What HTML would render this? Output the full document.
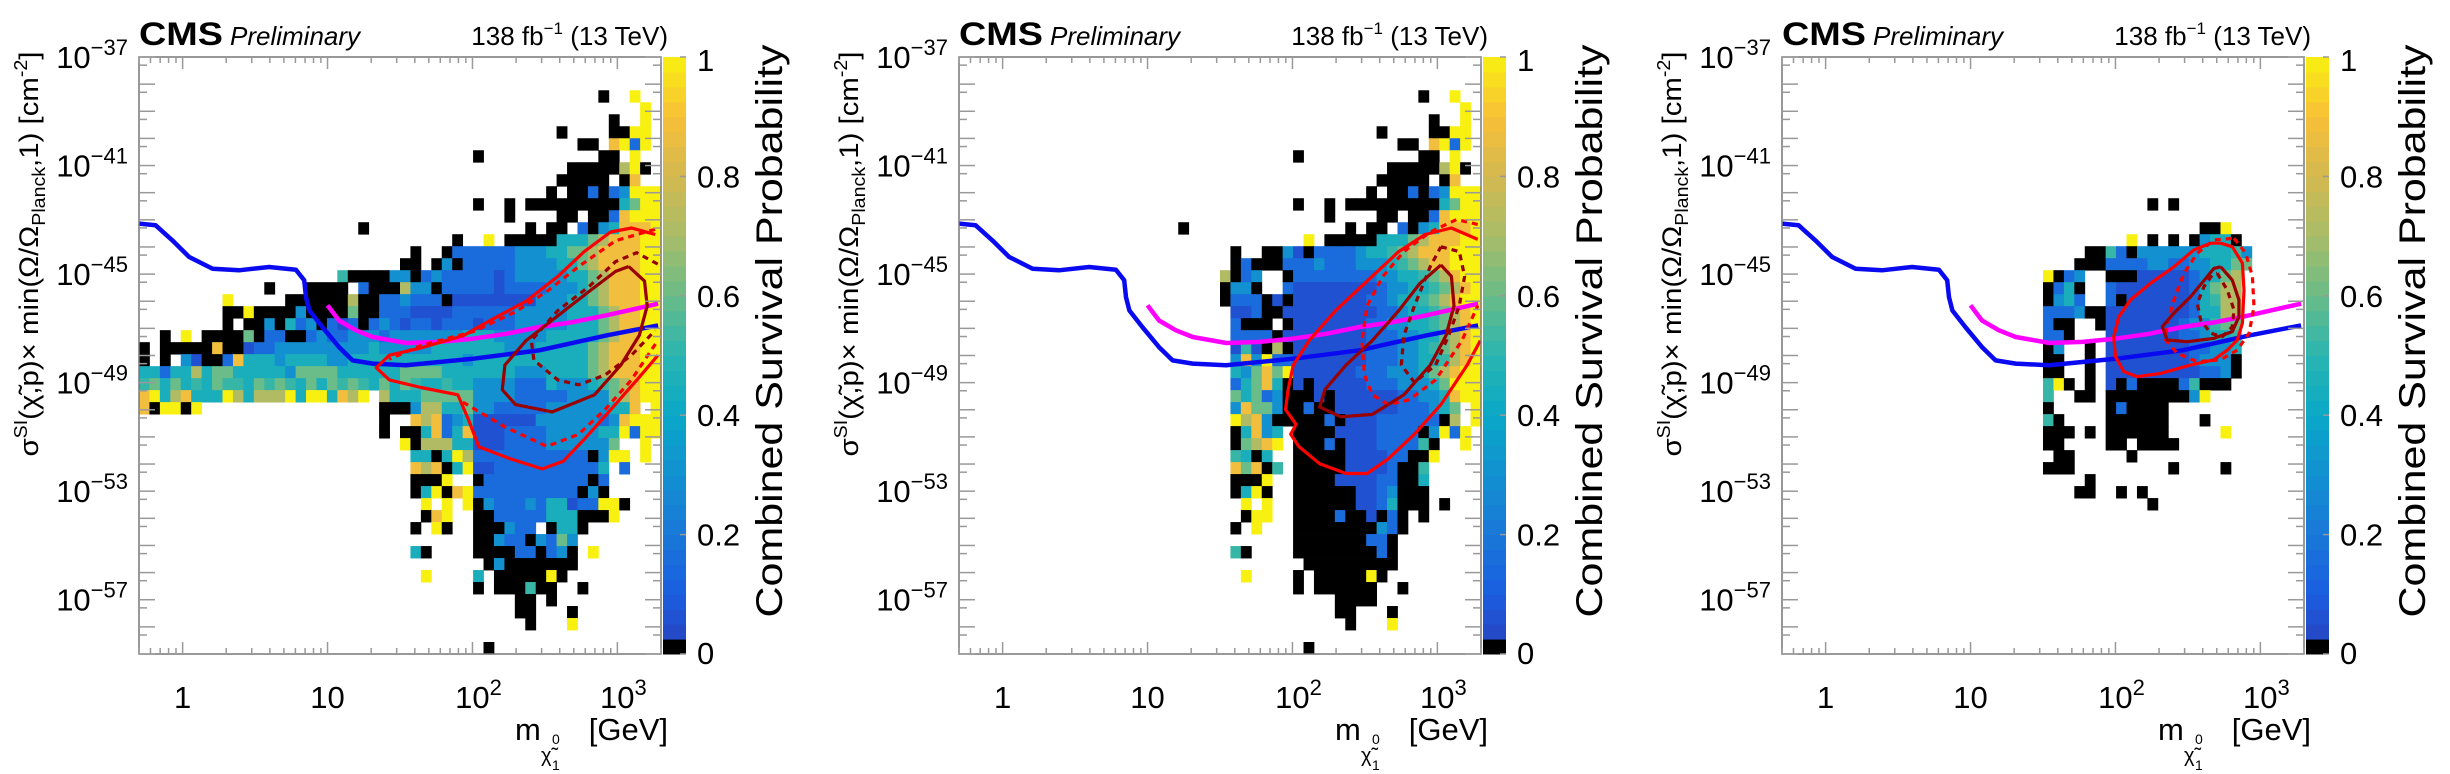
<!DOCTYPE html>
<html><head><meta charset="utf-8"><style>
html,body{margin:0;padding:0;background:#fff}
svg{display:block;font-family:"Liberation Sans",sans-serif}
</style></head><body>
<svg id="root" width="2450" height="774" viewBox="0 0 2450 774" xmlns="http://www.w3.org/2000/svg"></svg>
<script>
// ---------- data ----------
const LEVELS = {'1':0.06,'2':0.15,'3':0.3,'4':0.45,'5':0.52,'6':0.6,'7':0.72,'8':0.88,'9':1.0};
const topRows = ["","","","44:k 47:9","48:9","45:k 48:9","40:k 45:kk9 48:9","42:kk 45:8929","32:k 44:kk 47:9","41:kkkkk79k","40:kkkkk.k8","39:k.kk2k23999","32:k 35:k 37:kkkkkkkkk4699","35:k 40:kk.kk28999","21:k 37:k 39:kk.2k348889"];
const heat1 = topRows.concat([
"30:k 33:9 35:kkkkk4446788899",
"26:k 29:k22222233344667888899",
"25:kk.k3k2222233334467888899",
"19:5kkkk33k23222221233333446788899",
"12:k 16:kkkk.2kkk733k222221222233346788899",
"8:9 14:kkkkkk7kk223222k11111111333446788899",
"8:kk9kkkk3kkkk6kk222111122222233333444678899",
"8:k.kk3k423k212k2321221222122233333444678899",
"2:k 4:9 6:kkkk6k22kk2322333233333334443333344444678899",
"0:k.kkkkk8kk1223333333334333334444444333444446788899",
"0:k.k.31kk284443444433444444444443444444444446788899",
"0:44244746644444366664444446666444444433344446788899",
"0:56464546554656546465654646544544333322243334567899",
"0:8947844497477794994879.744466666333322222333367899",
"0:8k99k9 23:kkk3774463322222333333448.9",
"23:k..878234111111333333238999",
"23:k.kk48248111222233333449299",
"25:9k7774411122223333336..9",
"26:44k49722222222222k399.9",
"26:878k491122222222224.2",
"26:kkk9..k2222222222k2",
"26:k49k892222222222k3k",
"27:9.9.9k3222324412299k",
"27:k89..kk22222444kkk9",
"26:k.9k..kkk322.k44k",
"32:kk322k3263",
"26:4k 32:kkkk22k23k 43:9",
"33:k3kkkkkkk",
"27:9 32:4 34:kkkkk9k",
"32:k 34:kkk5kk 42:k",
"36:kk 39:k",
"36:kk 41:k",
"37:k 41:9",
"",
"33:k"]);
const heat2 = topRows.concat([
"33:9 35:kkkkk4446788899",
"26:k..kk31k2222344567888999",
"26:k2kkk2223222333456788999",
"25:7k23..k222222223344567899",
"25:k33k..2111111112334456789",
"25:k222k1k111111122344567899",
"26:112kk1111111112234456789",
"26:2kkk.k111111122334456789",
"26:2222k1111111122233446789",
"26:151k7k111111122233456789",
"26:383922111111122233445789",
"26:436869111111222333467899",
"26:24684k1k1111122233346999",
"26:64623kkk1k11111122334899",
"26:38663kk2kk111111222346.9",
"26:9783kkkkk2k111222222k7.9",
"26:k4834.kkkk11112222k3929",
"26:k6789.kkk2k11122225k..9",
"26:54k4..kkkkk111122kk9",
"26:868k5.kkkkk11112kk5",
"26:kkk9..kkkk111122kk4",
"26:k49k..kkkkkk1123kkk",
"27:9.9..kkkkkk1124kkk.k",
"27:k99..kkkk2kk1k2k.k",
"26:k.9...kkkkkkkk32k",
"32:kkkkkkk22k",
"26:5k 32:kkkkkkkk2k",
"33:kkkkkkkkk",
"27:9 32:k.kkkkk9k",
"32:k.kkkkkk..k",
"36:kkkk",
"36:kk...k",
"37:k...9",
"",
"33:k"]);
const heat3 = ["","","","","","","","","","","","",
"35:k.k","","40:kk9","33:9.k.k.k344k","29:kk52k33333344453","28:kkk22223322334466",
"25:9k23..kkk1111123467","25:k24k..2111111124677","25:k342..2k11111124577","25:2223kk1111111124477",
"25:2kk..k1111111233566","25:22k...1111111223445","25:k3..k.1111111122334","25:kk..k.111111112333k",
"25:kk..k.111111111223k","25:59k.k.1k2kkkk25kkk","25:5..kk.kkkkkkkk39","25:k.....k2kkkk",
"25:5k....kkkkkk...k","25:kkk.k.kkkkkk.....9","25:kk....kk.kkkk","26:kk.....k","25:kkk.........k....k",
"29:k","28:kk..k.k","35:k","","","","","","","","","","","",""];

const blueMass = [0.5,0.65,0.85,1.11,1.61,2.45,3.95,6.05,6.9,7.1,7.5,9.2,12,14.9,20.5,34.8,100,290,840,1910];
const blueLogSigma = [-43.14,-43.2,-43.76,-44.37,-44.8,-44.86,-44.74,-44.84,-45.23,-45.85,-46.34,-46.95,-47.69,-48.18,-48.3,-48.36,-48.12,-47.81,-47.26,-46.89];
const magMass = [10,12,15.7,20.5,35,59,100,171,290,494,840,1910];
const magLogSigma = [-46.15,-46.71,-47.07,-47.32,-47.54,-47.5,-47.38,-47.2,-46.95,-46.77,-46.52,-46.09];

// contours: [log10 mass, log10 sigma]
const c1RedSolid = [[3.262,-43.54],[3.098,-43.30],[2.953,-43.45],[2.771,-44.17],[2.590,-45.08],[2.372,-45.99],[2.118,-46.72],[1.936,-47.27],[1.645,-47.72],[1.427,-47.99],[1.336,-48.45],[1.427,-48.90],[1.645,-49.18],[1.899,-49.45],[1.972,-50.36],[2.044,-51.36],[2.263,-51.81],[2.481,-52.18],[2.626,-51.90],[2.771,-51.09],[2.953,-50.0],[3.135,-48.90],[3.280,-47.99]];
const c1RedDashA = [[3.26,-43.35],[2.988,-43.77],[2.733,-44.72],[2.515,-45.63],[2.297,-46.39],[2.006,-47.12],[1.643,-47.63],[1.425,-48.14]];
const c1RedDashB = [[1.934,-49.72],[2.224,-50.63],[2.515,-51.35],[2.733,-50.9],[2.915,-49.99],[3.097,-48.9],[3.278,-47.45]];
const c1DarkSolid = [[3.078,-44.72],[3.187,-45.26],[3.206,-46.17],[3.151,-47.26],[3.024,-48.35],[2.842,-49.45],[2.551,-50.08],[2.297,-49.81],[2.206,-49.26],[2.224,-48.35],[2.370,-47.45],[2.588,-46.54],[2.806,-45.63],[2.988,-44.9],[3.078,-44.72]];
const c1DarkDash = [[3.278,-44.63],[3.133,-44.21],[2.988,-44.54],[2.806,-45.45],[2.588,-46.35],[2.406,-47.45],[2.424,-48.17],[2.588,-48.9],[2.733,-49.08],[2.915,-48.72],[3.097,-47.99],[3.26,-47.08]];
const c2RedSolid = [[3.278,-43.72],[3.097,-43.3],[2.915,-43.54],[2.733,-44.17],[2.515,-45.26],[2.297,-46.35],[2.115,-47.45],[2.006,-48.35],[1.970,-49.26],[1.952,-49.99],[2.025,-50.54],[1.988,-50.90],[2.043,-51.35],[2.188,-51.99],[2.370,-52.35],[2.515,-52.35],[2.660,-51.81],[2.842,-50.90],[3.024,-49.81],[3.206,-48.35],[3.296,-47.45]];
const c2RedDash = [[3.278,-43.17],[3.133,-42.99],[2.951,-43.45],[2.769,-44.17],[2.624,-45.08],[2.515,-46.17],[2.479,-47.45],[2.497,-48.72],[2.551,-49.45],[2.660,-49.81],[2.806,-49.63],[2.988,-48.9],[3.169,-47.45],[3.278,-46.17]];
const c2DarkSolid = [[3.024,-44.66],[3.097,-45.08],[3.115,-46.17],[3.06,-47.26],[2.951,-48.35],[2.769,-49.45],[2.551,-50.17],[2.333,-50.26],[2.188,-49.9],[2.224,-49.26],[2.370,-48.35],[2.551,-47.45],[2.733,-46.35],[2.878,-45.35],[3.024,-44.66]];
const c2DarkDash = [[3.024,-43.99],[3.151,-44.17],[3.188,-45.08],[3.151,-46.17],[3.078,-47.26],[2.988,-48.35],[2.842,-48.99],[2.751,-48.35],[2.769,-47.26],[2.842,-46.17],[2.951,-44.72],[3.024,-43.99]];
const c3RedSolid = [[2.726,-43.86],[2.806,-43.99],[2.876,-44.60],[2.887,-45.59],[2.876,-46.81],[2.841,-47.43],[2.772,-47.80],[2.679,-48.16],[2.519,-48.35],[2.311,-48.66],[2.150,-48.78],[2.057,-48.59],[2.000,-48.04],[1.988,-47.31],[2.023,-46.57],[2.104,-45.95],[2.242,-45.34],[2.403,-44.73],[2.541,-44.11],[2.657,-43.86],[2.726,-43.86]];
const c3RedDash = [[2.818,-43.68],[2.899,-44.23],[2.945,-45.09],[2.956,-46.20],[2.922,-47.18],[2.841,-47.80],[2.726,-48.16],[2.565,-48.23],[2.426,-47.92],[2.346,-47.43],[2.357,-46.81],[2.403,-45.95],[2.472,-44.97],[2.565,-44.23],[2.679,-43.74],[2.818,-43.68]];
const c3DarkSolid = [[2.726,-44.73],[2.806,-45.22],[2.852,-45.95],[2.852,-46.57],[2.806,-47.12],[2.679,-47.37],[2.496,-47.49],[2.357,-47.43],[2.323,-46.94],[2.403,-46.44],[2.519,-45.83],[2.634,-45.09],[2.679,-44.79],[2.726,-44.73]];
const c3DarkDash = [[2.702,-44.97],[2.772,-45.59],[2.818,-46.32],[2.806,-46.94],[2.737,-47.31],[2.657,-47.18],[2.588,-46.69],[2.565,-46.08],[2.611,-45.46],[2.668,-45.03],[2.702,-44.97]];

const yTickExp = [-37,-41,-45,-49,-53,-57];
const xTickLabels = [["1",""],["10",""],["10","2"],["10","3"]];
const xTickMass = [1,10,100,1000];
const zTickValues = [0,0.2,0.4,0.6,0.8,1];
const zTickLabels = ["0","0.2","0.4","0.6","0.8","1"];

// ---------- geometry ----------
const NS = "http://www.w3.org/2000/svg";
const X0 = 139, X1 = 661, Y0 = 57, Y1 = 654;
const LMIN = Math.log10(0.5), LMAX = Math.log10(2000);
const SMAX = -37, SMIN = -59;
const NBX = 50, YB_TOP = -36.9, YB_W = 0.442;
const PANEL_OFFSETS = [0, 820, 1643];
function xL(l){ return X0 + (l - LMIN)/(LMAX - LMIN)*(X1 - X0); }
function xM(m){ return xL(Math.log10(m)); }
function yS(s){ return Y0 + (SMAX - s)/(SMAX - SMIN)*(Y1 - Y0); }
function zY(v){ return Y1 - v*(Y1 - Y0); }
const STOPS = [[0,'#2a3eb8'],[0.1,'#1a5ee0'],[0.2,'#1a78d8'],[0.3,'#1290d0'],[0.4,'#0aa8c8'],[0.5,'#2ab4b0'],[0.6,'#6abc88'],[0.7,'#a8bc68'],[0.8,'#d4b850'],[0.9,'#f8c038'],[1.0,'#f8f010']];
function hex(h){ return [parseInt(h.slice(1,3),16),parseInt(h.slice(3,5),16),parseInt(h.slice(5,7),16)]; }
function color(v){
  if (v <= 0.02) return '#000';
  for (let i=1;i<STOPS.length;i++){
    if (v <= STOPS[i][0]){
      const a=hex(STOPS[i-1][1]), b=hex(STOPS[i][1]);
      const t=(v-STOPS[i-1][0])/(STOPS[i][0]-STOPS[i-1][0]);
      return 'rgb('+a.map((x,k)=>Math.round(x+(b[k]-x)*t)).join(',')+')';
    }
  }
  return STOPS[STOPS.length-1][1];
}
function el(tag, attrs, parent){
  const e=document.createElementNS(NS,tag);
  for (const k in attrs) e.setAttribute(k, attrs[k]);
  if (parent) parent.appendChild(e);
  return e;
}
function decodeRow(s){
  const arr=new Array(NBX).fill(null);
  s.split(' ').filter(Boolean).forEach(tok=>{
    const p=tok.indexOf(':'); const c0=+tok.slice(0,p); const chars=tok.slice(p+1);
    for (let i=0;i<chars.length;i++){
      const ch=chars[i], col=c0+i;
      if (col>=NBX || ch==='.') continue;
      arr[col] = ch==='k' ? 0 : LEVELS[ch];
    }
  });
  return arr;
}
function pathFrom(pts){ return pts.map((p,i)=>(i?'L':'M')+xL(p[0]).toFixed(1)+' '+yS(p[1]).toFixed(1)).join(' '); }

const root=document.getElementById('root');
const defs=el('defs',{},root);
const clip=el('clipPath',{id:'frameclip'},defs);
el('rect',{x:X0,y:Y0,width:X1-X0,height:Y1-Y0},clip);

const heats=[heat1,heat2,heat3];
const contours=[
  [[c1RedSolid,'#ff0000',false],[c1RedDashA,'#ff0000',true],[c1RedDashB,'#ff0000',true],[c1DarkSolid,'#990000',false],[c1DarkDash,'#990000',true]],
  [[c2RedSolid,'#ff0000',false],[c2RedDash,'#ff0000',true],[c2DarkSolid,'#990000',false],[c2DarkDash,'#990000',true]],
  [[c3RedSolid,'#ff0000',false],[c3RedDash,'#ff0000',true],[c3DarkSolid,'#990000',false],[c3DarkDash,'#990000',true]]
];

PANEL_OFFSETS.forEach((off,pi)=>{
  const g=el('g',{transform:'translate('+off+',0)'},root);
  
  

  // heatmap
  const hg=el('g',{'clip-path':'url(#frameclip)'},g);
  
  
  const dL=(LMAX-LMIN)/NBX;
  heats[pi].forEach((row,r)=>{
    const vals=decodeRow(row);
    const sTop=YB_TOP - r*YB_W, sBot=sTop - YB_W;
    vals.forEach((v,c)=>{
      if (v===null) return;
      const xa=xL(LMIN+c*dL), xb=xL(LMIN+(c+1)*dL);
      const rc=el('rect',{x:xa.toFixed(2),y:yS(sTop).toFixed(2),width:(xb-xa+0.4).toFixed(2),height:(yS(sBot)-yS(sTop)+0.4).toFixed(2),fill:color(v)},hg);
      
      
    });
  });

  // lines
  const lg=el('g',{'clip-path':'url(#frameclip)',fill:'none','stroke-linejoin':'round'},g);
  const bl=el('path',{d:pathFrom(blueMass.map((m,i)=>[Math.log10(m),blueLogSigma[i]])),stroke:'#0a0af0','stroke-width':4.5},lg);
  
  
  const mg=el('path',{d:pathFrom(magMass.map((m,i)=>[Math.log10(m),magLogSigma[i]])),stroke:'#ff00ff','stroke-width':4.5},lg);
  
  
  contours[pi].forEach(([pts,col,dash],ci)=>{
    const cp=el('path',{d:pathFrom(pts),stroke:col,'stroke-width':3.2},lg);
    if (dash) cp.setAttribute('stroke-dasharray','6 5');
    
    
  });

  // frame + ticks
  const fr=el('rect',{x:X0,y:Y0,width:X1-X0,height:Y1-Y0,fill:'none',stroke:'#777','stroke-width':1.5},g);
  
  
  const tk=el('g',{stroke:'#999','stroke-width':1.5},g);
  
  
  for (let d=-1; d<=3; d++){
    for (let k=1;k<=9;k++){
      const m=k*Math.pow(10,d);
      if (m<0.5 || m>2000) continue;
      const x=xM(m), len=(k===1)?12:6;
      el('line',{x1:x,y1:Y1,x2:x,y2:Y1-len},tk);
      el('line',{x1:x,y1:Y0,x2:x,y2:Y0+len},tk);
    }
  }
  for (let s=-37; s>=-59; s--){
    [[s,16],[s-0.3,8]].forEach(([v,len])=>{
      if (v< -59) return;
      const y=yS(v);
      el('line',{x1:X0,y1:y,x2:X0+len,y2:y},tk);
      el('line',{x1:X1,y1:y,x2:X1-len,y2:y},tk);
    });
  }

  // y tick labels
  yTickExp.forEach(e=>{
    const t=el('text',{x:128,y:yS(e)+11,'text-anchor':'end','font-size':31},g);
    
    
    t.appendChild(document.createTextNode('10'));
    const sp=el('tspan',{'font-size':22,dy:-13},t); sp.textContent='\u2212'+(-e);
  });
  // x tick labels
  xTickMass.forEach((m,i)=>{
    const t=el('text',{x:xM(m)+(xTickLabels[i][1]?6:0),y:708,'text-anchor':'middle','font-size':31},g);
    
    
    t.appendChild(document.createTextNode(xTickLabels[i][0]));
    if (xTickLabels[i][1]){ const sp=el('tspan',{'font-size':22,dy:-13},t); sp.textContent=xTickLabels[i][1]; }
  });

  // x title
  const xt=el('g',{},g);
  
  
  const m1=el('text',{x:515,y:740,'font-size':31},xt); m1.textContent='m';
  const m2=el('text',{x:541,y:762,'font-size':20},xt); m2.textContent='\u03C7\u0303';
  const m3=el('text',{x:552,y:744,'font-size':14},xt); m3.textContent='0';
  const m4=el('text',{x:552,y:770,'font-size':14},xt); m4.textContent='1';
  const m5=el('text',{x:668,y:740,'font-size':31,'text-anchor':'end'},xt); m5.textContent='[GeV]';

  // y title
  const yt=el('text',{transform:'translate(38,254) rotate(-90)','text-anchor':'middle','font-size':27,textLength:405,lengthAdjust:'spacingAndGlyphs'},g);
  
  
  yt.appendChild(document.createTextNode('\u03C3'));
  let sp=el('tspan',{'font-size':18,dy:-11},yt); sp.textContent='SI';
  sp=el('tspan',{dy:11},yt); sp.textContent='(\u03C7\u0303,p)\u00D7 min(\u03A9/\u03A9';
  sp=el('tspan',{'font-size':18,dy:7},yt); sp.textContent='Planck';
  sp=el('tspan',{dy:-7},yt); sp.textContent=',1) [cm';
  sp=el('tspan',{'font-size':18,dy:-11},yt); sp.textContent='-2';
  sp=el('tspan',{dy:11},yt); sp.textContent=']';

  // header
  const cms=el('text',{x:139,y:45,'font-size':32,'font-weight':'bold',textLength:84,lengthAdjust:'spacingAndGlyphs'},g);
  cms.textContent='CMS';
  
  
  const pre=el('text',{x:230,y:45,'font-size':26,'font-style':'italic'},g);
  pre.textContent='Preliminary';
  
  
  const lum=el('text',{x:668,y:45,'font-size':26,'text-anchor':'end'},g);
  
  
  lum.appendChild(document.createTextNode('138 fb'));
  sp=el('tspan',{'font-size':17,dy:-11},lum); sp.textContent='\u22121';
  sp=el('tspan',{dy:11},lum); sp.textContent=' (13 TeV)';

  // colorbar
  const cb=el('g',{},g);
  
  
  const NSTEP=40;
  for (let i=0;i<NSTEP;i++){
    const v0=i/NSTEP, v1=(i+1)/NSTEP;
    el('rect',{x:663,y:zY(v1),width:23,height:zY(v0)-zY(v1)+0.5,fill:color(i===0?0:(v0+v1)/2)},cb);
  }
  zTickValues.forEach((v,i)=>{
    el('line',{x1:686,y1:zY(v),x2:680,y2:zY(v),stroke:'#999','stroke-width':1.5},cb);
    const t=el('text',{x:697,y:zY(v)+11+(v===1?3:0)-(v===0?1:0),'font-size':31},cb);
    t.textContent=zTickLabels[i];
    
    
  });
  const ct=el('text',{transform:'translate(782,331) rotate(-90)','text-anchor':'middle','font-size':37,textLength:573,lengthAdjust:'spacingAndGlyphs'},g);
  ct.textContent='Combined Survival Probability';
  
  
});
</script>
</body></html>
